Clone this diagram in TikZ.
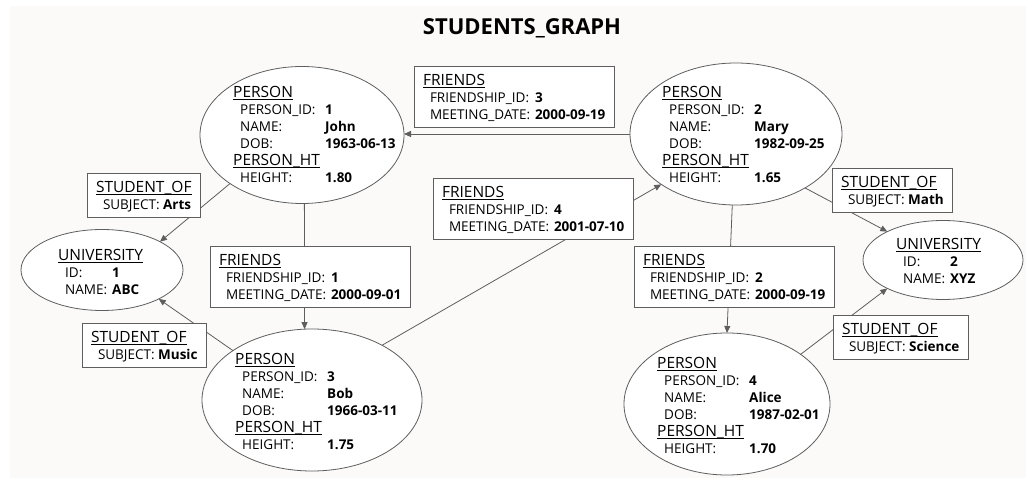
\documentclass[tikz,border=0pt]{standalone}
\usepackage{fontspec}
\setmainfont{Open Sans}
\usetikzlibrary{shapes.geometric,arrows.meta}
\definecolor{bgc}{HTML}{FBFAF9}
\definecolor{linec}{HTML}{5E5E5E}
\newcommand\hdr[1]{\setbox0\hbox{\fontsize{15.5}{17}\selectfont #1}\setbox2\hbox{\fontsize{15.5}{17}\selectfont\_}\rlap{\rule[-\dp2]{\wd0}{1pt}}\box0}
\newcommand\pkv[2]{\hspace*{7pt}\makebox[85pt][l]{#1}\textbf{#2}}
\newcommand\ukv[2]{\hspace*{7pt}\makebox[47pt][l]{#1}\textbf{#2}}
\newcommand\fkv[2]{\hspace*{7pt}\makebox[105pt][l]{#1}\textbf{#2}}
\newcommand\skv[1]{\hspace*{7pt}SUBJECT: \textbf{#1}}
\newcommand\person[4]{\begin{tabular}[t]{@{}l@{}}\hdr{PERSON}\\\pkv{PERSON\_ID:}{#1}\\\pkv{NAME:}{#2}\\\pkv{DOB:}{#3}\\\hdr{PERSON\_HT}\\\pkv{HEIGHT:}{#4}\end{tabular}}
\newcommand\univ[2]{\begin{tabular}[t]{@{}l@{}}\hdr{UNIVERSITY}\\\ukv{ID:}{#1}\\\ukv{NAME:}{#2}\end{tabular}}
\newcommand\friends[2]{\begin{tabular}[t]{@{}l@{}}\hdr{FRIENDS}\\\fkv{FRIENDSHIP\_ID:}{#1}\\\fkv{MEETING\_DATE:}{#2}\end{tabular}}
\newcommand\studof[1]{\begin{tabular}[t]{@{}l@{}}\hdr{STUDENT\_OF}\\\skv{#1}\end{tabular}}
\begin{document}
\begin{tikzpicture}[x=1pt,y=-1pt,
  every node/.style={font=\fontsize{13.5}{17}\selectfont},
  ent/.style={ellipse, draw=linec, fill=white, line width=0.8pt, inner sep=0pt, outer sep=0pt},
  txt/.style={anchor=base west, inner sep=0pt},
  lbltwo/.style={draw=linec, fill=white, line width=0.8pt, anchor=base west, inner xsep=9pt, inner ysep=0pt, text height=19.5pt, text depth=24.5pt, outer sep=0pt},
  lblthree/.style={lbltwo, text depth=41.5pt},
  conn/.style={draw=linec, line width=0.8pt, -{Triangle[length=7pt,width=6pt]}},
  ]
\useasboundingbox (0,0) rectangle (1026,478);
\fill[bgc] (10,6) rectangle (1026,478);
\node[anchor=base, font=\fontsize{22}{26}\selectfont\bfseries] (title) at (522,35) {STUDENTS\_GRAPH};
% entities
\node[ent, minimum width=204pt, minimum height=137pt] (p1) at (302,135) {};
\node[ent, minimum width=212pt, minimum height=142pt] (p2) at (736,134) {};
\node[ent, minimum width=220pt, minimum height=142pt] (p3) at (312,400) {};
\node[ent, minimum width=206pt, minimum height=142pt] (p4) at (727,404) {};
\node[ent, minimum width=162pt, minimum height=81pt] (u1) at (102,270) {};
\node[ent, minimum width=160pt, minimum height=79pt] (u2) at (943,260) {};
\node[txt] (t1) at (233,98) {\person{1}{John}{1963-06-13}{1.80}};
\node[txt] (t2) at (662,98) {\person{2}{Mary}{1982-09-25}{1.65}};
\node[txt] (t3) at (235,365) {\person{3}{Bob}{1966-03-11}{1.75}};
\node[txt] (t4) at (657,369) {\person{4}{Alice}{1987-02-01}{1.70}};
\node[txt] (tu1) at (58,261) {\univ{1}{ABC}};
\node[txt] (tu2) at (896,250) {\univ{2}{XYZ}};
% connectors
\draw[conn] (p2.west) -- (p2.west -| p1.east);
\draw[conn] (p1.-88) -- (p3.96);
\draw[conn] (p3.38) -- (p2.214);
\draw[conn] (p2.-93) -- (p4.90);
\draw[conn] (p1.214) -- (u1.26);
\draw[conn] (p3.148) -- (u1.-27);
\draw[conn] (p2.-38) -- (u2.153);
\draw[conn] (p4.34) -- (u2.207);
% edge labels
\node[lblthree] (f3) at (414,86) {\friends{3}{2000-09-19}};
\node[lblthree] (f1) at (210,266) {\friends{1}{2000-09-01}};
\node[lblthree] (f4) at (433,198) {\friends{4}{2001-07-10}};
\node[lblthree] (f2) at (634,266) {\friends{2}{2000-09-19}};
\node[lbltwo] (s1) at (87,193) {\studof{Arts}};
\node[lbltwo] (s2) at (82,343) {\studof{Music}};
\node[lbltwo] (s3) at (832,188) {\studof{Math}};
\node[lbltwo] (s4) at (833,335) {\studof{Science}};
\end{tikzpicture}
\end{document}
